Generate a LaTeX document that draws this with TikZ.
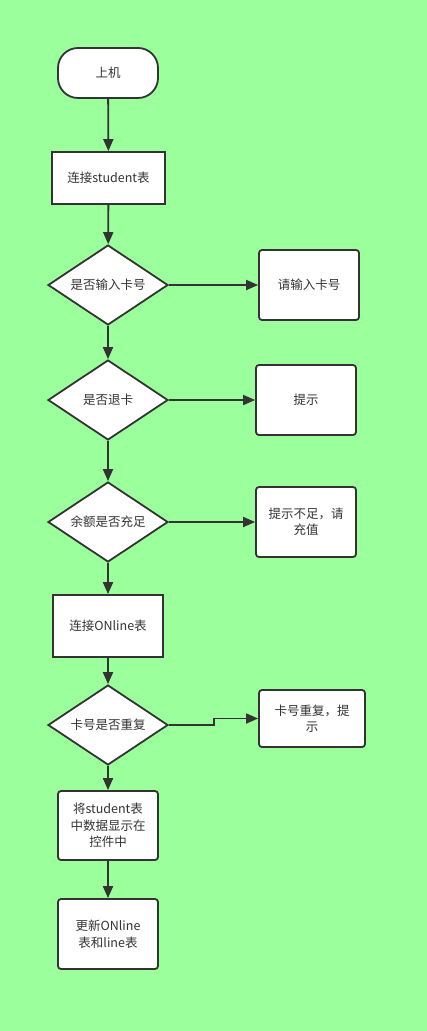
\documentclass[tikz,border=0pt]{standalone}
\usepackage{fontspec}
\setmainfont{Noto Sans CJK SC}
\usetikzlibrary{shapes.geometric,arrows.meta}
\definecolor{bggreen}{HTML}{9BFF9B}
\definecolor{ink}{HTML}{333333}
\begin{document}
\begin{tikzpicture}[x=1pt,y=-1pt,
  every node/.style={font=\fontsize{12.5}{16.5}\selectfont,text=ink,align=center},
  box/.style={draw=ink,fill=white,line width=1.8pt,inner sep=0pt},
  ask/.style={box,diamond,aspect=1.5,minimum width=120pt,minimum height=80pt},
  link/.style={draw=ink,line width=1.8pt,-{Triangle[length=12pt,width=10pt]}}]
\fill[bggreen] (0,0) rectangle (427,1031);
\useasboundingbox (0,0) rectangle (427,1031);

\node[box,rounded corners=20pt,minimum width=100pt,minimum height=50pt] (start) at (108,73) {上机};
\node[box,minimum width=113pt,minimum height=52pt] (stu) at (108.5,178) {连接student表};

\node[ask] (card) at (108,285) {是否输入卡号};
\node[box,rounded corners=3pt,minimum width=100pt,minimum height=70pt] (nocard) at (309,285) {请输入卡号};

\node[ask] (quit) at (108,400) {是否退卡};
\node[box,rounded corners=3pt,minimum width=100pt,minimum height=70pt] (tip) at (306,400) {提示};

\node[ask] (money) at (108,522) {余额是否充足};
\node[box,rounded corners=3pt,minimum width=100pt,minimum height=70pt] (nomoney) at (306,522) {提示不足，请\\充值};

\node[box,minimum width=110pt,minimum height=62pt] (onl) at (108,626) {连接ONline表};

\node[ask] (dup) at (108,725) {卡号是否重复};
\node[box,rounded corners=3pt,minimum width=106pt,minimum height=57pt] (isdup) at (312,718.5) {卡号重复，提\\示};

\node[box,rounded corners=3pt,minimum width=100pt,minimum height=69pt] (show) at (108,825.5) {将student表\\中数据显示在\\控件中};
\node[box,rounded corners=3pt,minimum width=100pt,minimum height=70pt] (upd) at (108,934) {更新ONline\\表和line表};

\draw[link] (start) -- (stu);
\draw[link] (stu) -- (card);
\draw[link] (card) -- (quit);
\draw[link] (quit) -- (money);
\draw[link] (money) -- (onl);
\draw[link] (onl) -- (dup);
\draw[link] (dup) -- (show);
\draw[link] (show) -- (upd);

\draw[link] (card) -- (nocard);
\draw[link] (quit) -- (tip);
\draw[link] (money) -- (nomoney);
\draw[link] (dup.east) -- ++(45,0) |- (isdup.west);
\end{tikzpicture}
\end{document}
